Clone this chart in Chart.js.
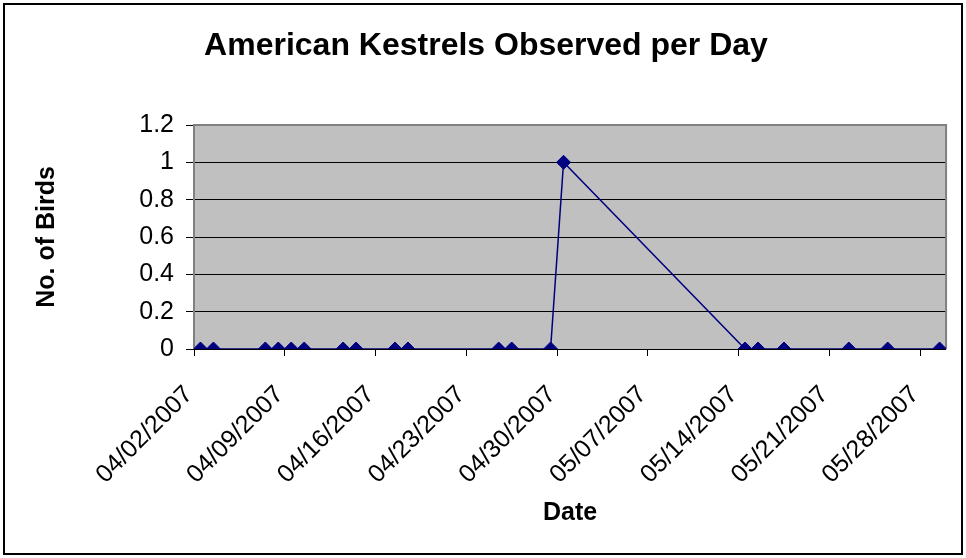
<!DOCTYPE html>
<html>
<head>
<meta charset="utf-8">
<script src="https://cdn.jsdelivr.net/npm/chart.js@4.4.1/dist/chart.umd.min.js"></script>
<style>
  html, body { margin: 0; padding: 0; background: #fff; }
  canvas { display: block; }
</style>
</head>
<body>
<canvas id="kestrels" width="966" height="558"></canvas>
<script>
// survey days with a count, and the count of birds on each day
const dates = [
  "04/02/2007", "04/03/2007", "04/07/2007", "04/08/2007", "04/09/2007",
  "04/10/2007", "04/13/2007", "04/14/2007", "04/17/2007", "04/18/2007",
  "04/25/2007", "04/26/2007", "04/29/2007", "04/30/2007", "05/14/2007",
  "05/15/2007", "05/17/2007", "05/22/2007", "05/25/2007", "05/29/2007"
];
const birds = [0, 0, 0, 0, 0, 0, 0, 0, 0, 0, 0, 0, 0, 1, 0, 0, 0, 0, 0, 0];

// axis: 04/02/2007 to 05/29/2007, one tick a week
const axisStart = "04/02/2007";
const axisDays = 58;
const tickStep = 7;
const yTicks = [0, 0.2, 0.4, 0.6, 0.8, 1, 1.2];

const DAY = 86400000;
function parseDate(s) {
  const p = s.split("/");
  return Date.UTC(+p[2], +p[0] - 1, +p[1]);
}
function fmtDate(t) {
  const d = new Date(t);
  const mm = String(d.getUTCMonth() + 1).padStart(2, "0");
  const dd = String(d.getUTCDate()).padStart(2, "0");
  return mm + "/" + dd + "/" + d.getUTCFullYear();
}
const t0 = parseDate(axisStart);

// each day is a band, the point sits in the middle of it
const points = dates.map((d, i) => ({ x: (parseDate(d) - t0) / DAY + 0.5, y: birds[i] }));

// grey plot area with a thin grey frame, black frame round the whole chart
const plotFrame = {
  id: "plotFrame",
  beforeDraw(chart) {
    const { ctx, chartArea: a } = chart;
    ctx.save();
    ctx.fillStyle = "#C0C0C0";
    ctx.fillRect(a.left, a.top, a.right - a.left, a.bottom - a.top);
    ctx.restore();
  },
  beforeDatasetsDraw(chart) {
    const { ctx, chartArea: a } = chart;
    ctx.save();
    ctx.strokeStyle = "#808080";
    ctx.lineWidth = 2;
    ctx.beginPath();
    ctx.moveTo(a.left, a.bottom);
    ctx.lineTo(a.left, a.top);
    ctx.lineTo(a.right, a.top);
    ctx.lineTo(a.right, a.bottom);
    ctx.stroke();
    ctx.strokeStyle = "#000";
    ctx.lineWidth = 1;
    ctx.beginPath();
    ctx.moveTo(a.left - 8, a.bottom + 0.5);
    ctx.lineTo(a.right, a.bottom + 0.5);
    ctx.stroke();
    ctx.restore();
  },
  afterDraw(chart) {
    const ctx = chart.ctx;
    ctx.save();
    ctx.strokeStyle = "#000";
    ctx.lineWidth = 2;
    ctx.strokeRect(4, 4, chart.width - 8, chart.height - 8);
    ctx.restore();
  }
};

new Chart(document.getElementById("kestrels"), {
  type: "line",
  data: {
    datasets: [{
      data: points,
      borderColor: "#000080",
      backgroundColor: "#000080",
      borderWidth: 1.5,
      pointStyle: "rectRot",
      pointRadius: 7,
      pointBorderWidth: 1,
      pointBackgroundColor: "#000080",
      pointBorderColor: "#000080",
      tension: 0
    }]
  },
  options: {
    responsive: false,
    animation: false,
    layout: { padding: { left: 25, right: 19, top: 0, bottom: 0 } },
    plugins: {
      legend: { display: false },
      tooltip: { enabled: false },
      title: {
        display: true,
        text: "American Kestrels Observed per Day",
        color: "#000",
        font: { family: "Arial, 'Liberation Sans'", size: 32, weight: "bold" },
        padding: { top: 27, bottom: 59.6 }
      }
    },
    scales: {
      x: {
        type: "linear",
        min: 0,
        max: axisDays,
        afterFit(scale) { scale.height = 209; },
        afterBuildTicks(scale) {
          const ticks = [];
          for (let v = 0; v < axisDays; v += tickStep) ticks.push({ value: v });
          scale.ticks = ticks;
        },
        ticks: {
          autoSkip: false,
          maxRotation: 45,
          minRotation: 45,
          padding: 24,
          labelOffset: -5,
          color: "#000",
          font: { family: "Arial, 'Liberation Sans'", size: 25 },
          callback: v => fmtDate(t0 + v * DAY)
        },
        grid: {
          drawOnChartArea: false,
          drawTicks: true,
          tickLength: 7,
          color: "#000"
        },
        border: { display: false },
        title: {
          display: true,
          text: "Date",
          color: "#000",
          font: { family: "Arial, 'Liberation Sans'", size: 25, weight: "bold" },
          padding: { top: 0, bottom: 30 }
        }
      },
      y: {
        min: 0,
        max: 1.2,
        afterFit(scale) { scale.width = 169; },
        afterBuildTicks(scale) {
          scale.ticks = yTicks.map(v => ({ value: v }));
        },
        ticks: {
          padding: 12,
          color: "#000",
          font: { family: "Arial, 'Liberation Sans'", size: 25 },
          callback: v => String(v)
        },
        grid: {
          color: ctx => (ctx.tick && ctx.tick.value === 1.2) ? "#808080" : "#000",
          tickColor: "#000",
          tickLength: 8,
          lineWidth: 1
        },
        border: { display: false },
        title: {
          display: true,
          text: "No. of Birds",
          color: "#000",
          font: { family: "Arial, 'Liberation Sans'", size: 25, weight: "bold" },
          padding: { top: 7, bottom: 0 }
        }
      }
    }
  },
  plugins: [plotFrame]
});
</script>
</body>
</html>
